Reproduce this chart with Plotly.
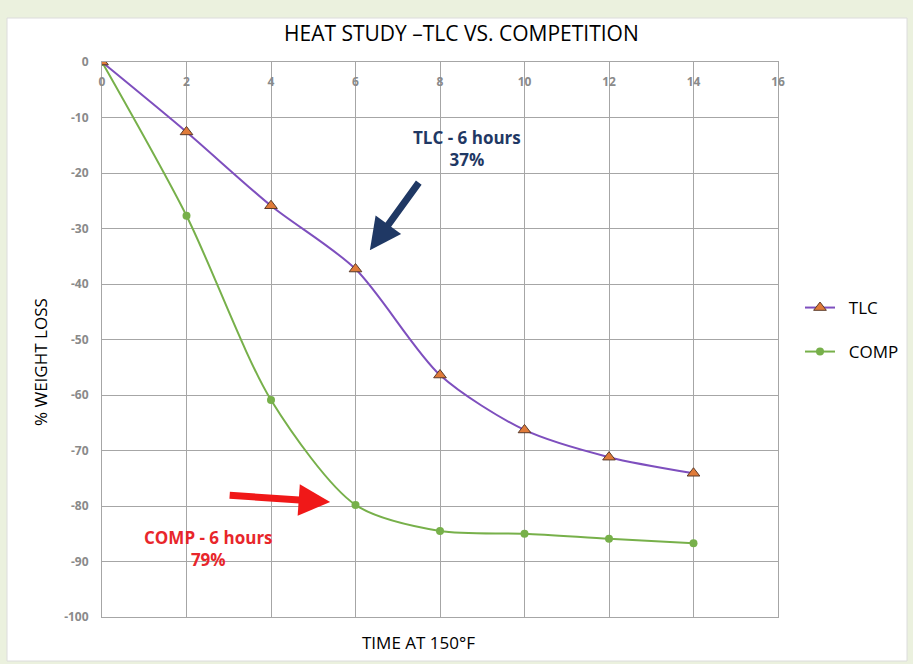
import plotly.graph_objects as go

hours = [0, 2, 4, 6, 8, 10, 12, 14]
tlc = [0, -12.6, -25.9, -37.3, -56.4, -66.3, -71.2, -74.1]
comp = [0, -27.7, -60.9, -79.8, -84.5, -85.0, -85.9, -86.7]
x_ticks = [0, 2, 4, 6, 8, 10, 12, 14, 16]
y_ticks = [0, -10, -20, -30, -40, -50, -60, -70, -80, -90, -100]

FONT = '"Liberation Sans Narrow", "Open Sans", sans-serif'
TICKFONT = dict(size=12, color="#8a8a8a", family="Open Sans", weight=700)
NB = "\u00a0\u00a0"

fig = go.Figure()
fig.add_trace(go.Scatter(
    x=hours, y=comp, name=NB + "COMP", mode="lines+markers",
    line=dict(color="#77B04A", width=2, shape="spline", smoothing=0.8),
    marker=dict(symbol="circle", size=8, color="#77B04A"),
    legend="legend2"))
fig.add_trace(go.Scatter(
    x=hours, y=tlc, name=NB + "TLC", mode="lines+markers",
    line=dict(color="#7E4FBE", width=2, shape="spline", smoothing=0.8),
    marker=dict(symbol="triangle-up", size=11, color="#E07B39",
                line=dict(color="#5a3a2a", width=1)),
    legend="legend"))
# carrier so the label-only x axis is drawn
fig.add_trace(go.Scatter(x=x_ticks, y=[None] * len(x_ticks), xaxis="x2", yaxis="y",
                         showlegend=False, hoverinfo="skip", mode="markers"))

W, H = 913, 664
l, r, t, b = 102, 135, 62, 47
pw, ph = W - l - r, H - t - b
def px(xp): return (xp - l) / pw
def py(yp): return (H - b - yp) / ph

fig.add_shape(type="rect", xref="paper", yref="paper",
              x0=px(7), x1=px(907), y0=py(661), y1=py(18),
              fillcolor="white", line=dict(color="#dcdcdc", width=1), layer="below")

fig.update_layout(
    width=W, height=H,
    margin=dict(l=l, r=r, t=t, b=b, autoexpand=False),
    paper_bgcolor="#EBF1DE", plot_bgcolor="white",
    font=dict(family=FONT, color="#000"),
    showlegend=True, hovermode=False,
    legend=dict(x=px(800), y=py(308), xanchor="left", yanchor="middle",
                font=dict(size=17, family=FONT), bgcolor="rgba(0,0,0,0)", itemwidth=30),
    legend2=dict(x=px(800), y=py(352), xanchor="left", yanchor="middle",
                 font=dict(size=17, family=FONT), bgcolor="rgba(0,0,0,0)", itemwidth=30),
    xaxis=dict(range=[0, 16], tickvals=x_ticks, showticklabels=False, ticks="",
               showgrid=True, gridcolor="#a6a6a6", gridwidth=1,
               showline=True, linecolor="#a6a6a6", mirror=True, zeroline=False),
    xaxis2=dict(range=[0, 16], overlaying="x", anchor="free", side="bottom",
                position=py(73), tickvals=x_ticks, ticktext=[str(v) for v in x_ticks],
                ticks="", showgrid=False, showline=False, zeroline=False,
                tickfont=TICKFONT),
    yaxis=dict(range=[-100, 0], tickvals=y_ticks, ticktext=[str(v) for v in y_ticks],
               tickfont=TICKFONT,
               ticks="outside", ticklen=10, tickcolor="rgba(0,0,0,0)",
               showgrid=True, gridcolor="#a6a6a6", gridwidth=1,
               showline=True, linecolor="#a6a6a6", mirror=True, zeroline=False),
)

fig.add_annotation(text="HEAT STUDY \u2013TLC VS. COMPETITION", xref="paper", yref="paper",
                   x=px(461), y=py(33), xanchor="center", yanchor="middle",
                   showarrow=False, font=dict(size=21, family=FONT))
fig.add_annotation(text="% WEIGHT LOSS", xref="paper", yref="paper",
                   x=px(40), y=py(362), xanchor="center", yanchor="middle",
                   showarrow=False, textangle=-90, font=dict(size=17, family=FONT))
fig.add_annotation(text="TIME AT 150\u00b0F", xref="paper", yref="paper",
                   x=px(418), y=py(642), xanchor="center", yanchor="middle",
                   showarrow=False, font=dict(size=17, family=FONT))

# callouts
fig.add_annotation(text="<b>TLC - 6 hours<br>37%</b>", x=8.64, y=-15.5, showarrow=False,
                   xanchor="center", yanchor="middle",
                   font=dict(size=17, color="#1F3864", family="Open Sans"), align="center")
fig.add_annotation(text="", x=6.34, y=-33.9, ax=50, ay=-69, showarrow=True,
                   arrowhead=2, arrowsize=0.9, arrowwidth=7, arrowcolor="#1F3864")
fig.add_annotation(text="<b>COMP - 6 hours<br>79%</b>", x=2.53, y=-87.7, showarrow=False,
                   xanchor="center", yanchor="middle",
                   font=dict(size=17, color="#E8262B", family="Open Sans"), align="center")
fig.add_annotation(text="", x=5.40, y=-79.3, ax=-102, ay=-7, showarrow=True,
                   arrowhead=2, arrowsize=0.9, arrowwidth=7, arrowcolor="#F01818")

fig.write_html("out.html", config={"displayModeBar": False},
               post_script="document.body.style.margin='0';document.body.style.overflow='hidden';")
